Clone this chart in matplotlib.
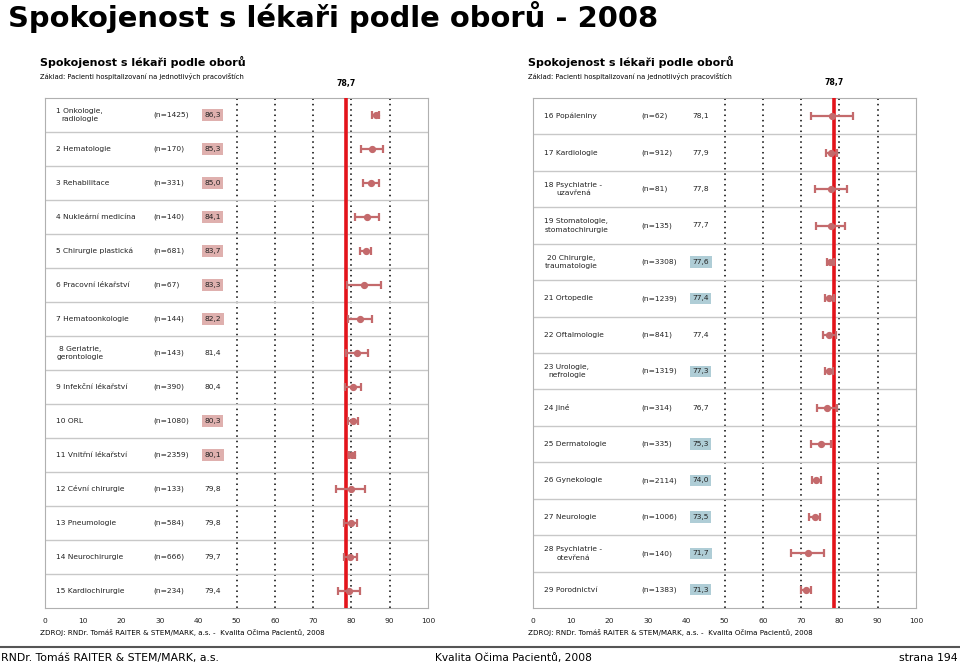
import matplotlib.pyplot as plt

# data
left_labels = ["1 Onkologie,\nradiologie", "2 Hematologie", "3 Rehabilitace",
               "4 Nukleární medicína", "5 Chirurgie plastická", "6 Pracovní lékařství",
               "7 Hematoonkologie", "8 Geriatrie,\ngerontologie", "9 Infekční lékařství",
               "10 ORL", "11 Vnitřní lékařství", "12 Cévní chirurgie",
               "13 Pneumologie", "14 Neurochirurgie", "15 Kardiochirurgie"]
left_n = ["(n=1425)", "(n=170)", "(n=331)", "(n=140)", "(n=681)", "(n=67)", "(n=144)",
          "(n=143)", "(n=390)", "(n=1080)", "(n=2359)", "(n=133)", "(n=584)", "(n=666)",
          "(n=234)"]
left_vals = [86.3, 85.3, 85.0, 84.1, 83.7, 83.3, 82.2, 81.4, 80.4, 80.3, 80.1, 79.8,
             79.8, 79.7, 79.4]
left_err = [0.9, 2.9, 2.1, 3.2, 1.5, 4.4, 3.1, 2.9, 2.1, 1.3, 0.8, 3.7, 1.7, 1.7, 2.8]
left_hl = [1, 1, 1, 1, 1, 1, 1, 0, 0, 1, 1, 0, 0, 0, 0]

right_labels = ["16 Popáleniny", "17 Kardiologie", "18 Psychiatrie -\nuzavřená",
                "19 Stomatologie,\nstomatochirurgie", "20 Chirurgie,\ntraumatologie",
                "21 Ortopedie", "22 Oftalmologie", "23 Urologie,\nnefrologie", "24 Jiné",
                "25 Dermatologie", "26 Gynekologie", "27 Neurologie",
                "28 Psychiatrie -\notevřená", "29 Porodnictví"]
right_n = ["(n=62)", "(n=912)", "(n=81)", "(n=135)", "(n=3308)", "(n=1239)", "(n=841)",
           "(n=1319)", "(n=314)", "(n=335)", "(n=2114)", "(n=1006)", "(n=140)", "(n=1383)"]
right_vals = [78.1, 77.9, 77.8, 77.7, 77.6, 77.4, 77.4, 77.3, 76.7, 75.3, 74.0, 73.5,
              71.7, 71.3]
right_err = [5.4, 1.5, 4.2, 3.7, 0.9, 1.1, 1.6, 1.1, 2.6, 2.6, 1.2, 1.5, 4.4, 1.3]
right_hl = [0, 0, 0, 0, 1, 1, 0, 1, 0, 1, 1, 1, 1, 1]

overall = 78.7
ticks = list(range(0, 101, 10))
grid_x = [50, 60, 70, 80, 90]

fig = plt.figure(figsize=(9.6, 6.65), dpi=100)

fig.text(8 / 960, 1 - 17 / 665, "Spokojenost s lékaři podle oborů - 2008",
         fontsize=20.9, fontweight='bold', va='center')

FS = 5.4


def panel(left, labels, ns, vals, errs, hl, hl_color, x_title):
    ax = fig.add_axes([left / 960, 57 / 665, 383 / 960, 510 / 665])
    rows = len(vals)
    ys = [i + 0.5 for i in range(rows)]
    ax.set_xlim(0, 100)
    ax.set_ylim(rows, 0)
    for gx in grid_x:
        ax.axvline(gx, color='black', ls=(0, (1, 2.5)), lw=1.1, zorder=1)
    for i in range(1, rows):
        ax.axhline(i, color='#c8c8c8', lw=1, zorder=1)
    ax.axvline(overall, color='#e3141b', lw=2.6, zorder=3)
    ax.errorbar(vals, ys, xerr=errs, fmt='o', color='#c46a6c', ms=4.2, capsize=3,
                elinewidth=1.6, capthick=1.6, zorder=4)
    for y, lab, n, v, h in zip(ys, labels, ns, vals, hl):
        ax.text(3.0, y, lab, fontsize=FS, va='center', ha='left',
                multialignment='center', color='#222222', linespacing=1.5)
        ax.text(28.3, y, n, fontsize=FS, va='center', ha='left', color='#222222')
        bb = dict(boxstyle='square,pad=0.35', fc=hl_color, ec='none') if h else None
        ax.text(41.6, y, f"{v:.1f}".replace('.', ','), fontsize=FS, va='center',
                ha='left', color='#222222', bbox=bb)
    ax.set_yticks([])
    ax.set_xticks(ticks)
    ax.tick_params(axis='x', length=0, labelsize=FS, pad=7, colors='#222222')
    for s in ax.spines.values():
        s.set_color('#b0b0b0')
    ax.text(overall, -0.3, "78,7", fontsize=5.6, fontweight='bold', ha='center',
            va='bottom')
    fig.text(x_title / 960, 1 - 62 / 665, "Spokojenost s lékaři podle oborů",
             fontsize=8.0, fontweight='bold', va='center')
    fig.text(x_title / 960, 1 - 77 / 665,
             "Základ: Pacienti hospitalizovaní na jednotlivých pracovištích",
             fontsize=4.9, va='center')
    fig.text(x_title / 960, 1 - 632 / 665,
             "ZDROJ: RNDr. Tomáš RAITER & STEM/MARK, a.s. -  Kvalita Očima Pacientů, 2008",
             fontsize=5.1, va='center')
    return ax


panel(45, left_labels, left_n, left_vals, left_err, left_hl, '#dfb0ae', 40)
panel(533, right_labels, right_n, right_vals, right_err, right_hl, '#afcdd6', 528)

fig.add_artist(plt.Line2D([0, 1], [1 - 647 / 665] * 2, color='#555555', lw=1.5))
fig.text(0.001, 1 - 658 / 665, "RNDr. Tomáš RAITER & STEM/MARK, a.s.", fontsize=7.8,
         va='center')
fig.text(435 / 960, 1 - 658 / 665, "Kvalita Očima Pacientů, 2008", fontsize=7.7,
         va='center')
fig.text(0.998, 1 - 658 / 665, "strana 194", fontsize=7.8, va='center', ha='right')

fig.savefig("out.png", dpi=100)
